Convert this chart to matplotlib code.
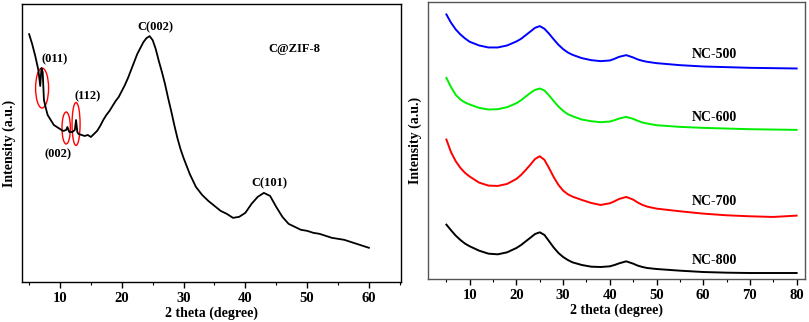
import matplotlib.pyplot as plt
from matplotlib.patches import Ellipse
from matplotlib.ticker import MultipleLocator

# left panel: C@ZIF-8 pattern (intensity in arbitrary units)
zif_theta = [5, 5.5, 6, 6.5, 6.8, 7.0, 7.2, 7.4, 7.7, 8, 8.5, 9, 9.5, 10, 10.5, 11,
             11.2, 11.5, 12, 12.4, 12.6, 12.8, 13, 13.5, 14, 14.5, 15, 15.5, 16,
             16.5, 17, 17.5, 18, 18.5, 19, 19.5, 20, 20.5, 21, 21.5, 22, 22.5, 23,
             23.5, 24, 24.5, 25, 25.5, 26, 26.5, 27, 27.5, 28, 28.5, 29, 29.5, 30,
             31, 32, 33, 34, 35, 36, 37, 38, 39, 40, 41, 42, 43, 44, 45, 46, 47,
             48, 49, 50, 51, 52, 53, 54, 55, 56, 57, 58, 59, 60]
zif_int = [248, 238, 226, 212, 196, 214, 210, 182, 174, 167, 162, 157, 155, 153,
           151, 152, 155, 150, 150, 152, 162, 150, 148, 147, 146, 147, 145, 148,
           151, 156, 162, 167, 171, 176, 181, 185, 191, 197, 204, 212, 220, 228,
           234, 240, 244, 246, 242, 233, 221, 210, 198, 184, 171, 157, 144, 133,
           124, 108, 95, 87, 81, 76, 71, 68, 64, 65, 69, 78, 85, 89, 86, 75, 65,
           58, 55, 52, 51, 49, 48, 46, 44, 43, 42, 40, 38, 36, 34]

# right panel: NC samples
nc_theta = [5, 6, 7, 8, 9, 10, 12, 14, 16, 18, 20, 21, 22, 23, 24, 25, 26, 27, 28,
            29, 30, 31, 32, 34, 36, 38, 40, 41, 42, 43.5, 45, 46, 47, 48, 50, 55,
            60, 65, 70, 75, 80]
nc500 = [793, 768, 748, 733, 721, 711, 700, 694, 694, 700, 712, 720, 731, 742,
         753, 758, 750, 735, 718, 702, 689, 679, 672, 662, 656, 653, 655, 660,
         666, 671, 664, 658, 654, 651, 647, 641, 637, 635, 633, 632, 631]
nc600 = [603, 575, 552, 538, 529, 523, 513, 508, 509, 515, 527, 536, 547, 558,
         567, 571, 565, 550, 533, 517, 504, 494, 488, 478, 473, 470, 472, 476,
         481, 486, 480, 474, 469, 466, 461, 456, 453, 451, 449, 448, 447]
nc700 = [418, 380, 353, 333, 318, 307, 289, 280, 279, 285, 300, 312, 327, 343,
         360, 368, 357, 332, 305, 282, 265, 254, 247, 237, 228, 222, 227, 233,
         240, 246, 238, 229, 222, 217, 211, 203, 196, 191, 188, 186, 190]
nc800 = [163, 146, 130, 117, 106, 98, 85, 76, 74, 80, 93, 102, 113, 124, 135,
         140, 132, 113, 94, 78, 66, 57, 50, 42, 37, 36, 38, 42, 47, 53, 46, 40,
         36, 33, 30, 25, 21, 19, 18, 18, 18]
nc_names = ['NC-500', 'NC-600', 'NC-700', 'NC-800']
nc_colors = ['#0000ff', '#00ee00', '#ff0000', '#000000']
nc_label_y = [673, 485, 233, 55]

plt.rcParams['font.family'] = ['Liberation Serif', 'DejaVu Serif']
plt.rcParams['font.weight'] = 'bold'

fig = plt.figure(figsize=(8.09, 3.22), dpi=100)

ax1 = fig.add_axes([0.0272, 0.125, 0.4685, 0.862])
ax1.plot(zif_theta, zif_int, color='black', lw=1.3)
ax1.set_xlim(3.85, 65.2)
ax1.set_ylim(0, 278)
ax1.text(25.4, 255, 'C(002)', ha='center', va='center', fontsize=9, fontweight='bold')
ax1.text(43.9, 99, 'C(101)', ha='center', va='center', fontsize=9, fontweight='bold')
ax1.text(48, 233, 'C@ZIF-8', ha='center', va='center', fontsize=9, fontweight='bold')
ax1.text(9.2, 223, '(011)', ha='center', va='center', fontsize=9, fontweight='bold')
ax1.text(14.4, 186, '(112)', ha='center', va='center', fontsize=9, fontweight='bold')
ax1.text(9.7, 128, '(002)', ha='center', va='center', fontsize=9, fontweight='bold')
for cx, cy, w, h in [(7.1, 194, 2.1, 40), (11.0, 154, 1.35, 32), (12.6, 158, 1.3, 43)]:
    ax1.add_patch(Ellipse((cx, cy), w, h, fill=False, edgecolor='red', lw=1.0))

ax2 = fig.add_axes([0.5287, 0.1335, 0.4664, 0.860])
for ys, c, name, ly in zip([nc500, nc600, nc700, nc800], nc_colors, nc_names, nc_label_y):
    ax2.plot(nc_theta, ys, color=c, lw=1.4)
    ax2.text(62.4, ly, name, ha='center', va='center', fontsize=10, fontweight='bold')
ax2.set_xlim(1.0, 81.8)
ax2.set_ylim(0, 830)

for ax in (ax1, ax2):
    ax.xaxis.set_major_locator(MultipleLocator(10))
    ax.xaxis.set_minor_locator(MultipleLocator(5))
    ax.tick_params(axis='x', which='major', direction='out', length=4, width=1,
                   labelsize=10.5, pad=3.5)
    ax.tick_params(axis='x', which='minor', direction='out', length=2.5, width=0.8)
    ax.set_yticks([])
    ax.set_xlabel('2 theta (degree)', fontsize=10, fontweight='bold', labelpad=1)
    ax.set_ylabel('Intensity (a.u.)', fontsize=10, fontweight='bold', labelpad=4)
    for lab in ax.get_xticklabels():
        lab.set_fontweight('bold')
    for s in ax.spines.values():
        s.set_linewidth(1.0)

ax1.set_xticks([10, 20, 30, 40, 50, 60])
ax2.set_xticks([10, 20, 30, 40, 50, 60, 70, 80])
for s in ax2.spines.values():
    s.set_edgecolor('#555555')

fig.savefig('out.png', dpi=100)
